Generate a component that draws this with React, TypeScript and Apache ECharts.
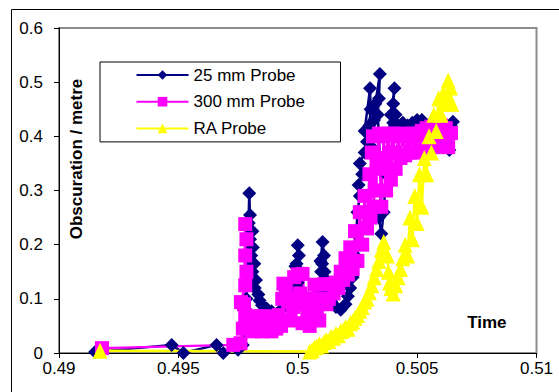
import React, { useEffect, useRef } from "react";
import * as echarts from "echarts";

const seriesNames = ["25 mm Probe", "300 mm Probe", "RA Probe"];

const xMin = 0.49;
const xMax = 0.51;
const xStep = 0.005;
const yMin = 0;
const yMax = 0.6;
const yStep = 0.1;

const probe25: [number, number][] = [
  [0.49151, 0.002], [0.49472, 0.015], [0.49521, 0.0], [0.4966, 0.015], [0.49688, 0.0],
  [0.4975, 0.006], [0.4977, 0.015], [0.4978, 0.04], [0.49785, 0.1], [0.49797, 0.295],
  [0.498, 0.255], [0.49795, 0.24], [0.4981, 0.225], [0.498, 0.21], [0.49812, 0.195],
  [0.49805, 0.18], [0.49818, 0.165], [0.4981, 0.15], [0.49825, 0.135], [0.4982, 0.12],
  [0.49835, 0.108], [0.4984, 0.097], [0.4985, 0.088], [0.4987, 0.082], [0.4989, 0.077],
  [0.4991, 0.072], [0.4993, 0.08], [0.4995, 0.09], [0.4997, 0.105], [0.4998, 0.13],
  [0.49995, 0.165], [0.5, 0.199], [0.50005, 0.18], [0.4999, 0.16], [0.50008, 0.145],
  [0.5, 0.13], [0.5001, 0.115], [0.50015, 0.1], [0.5002, 0.11], [0.5003, 0.09],
  [0.5005, 0.085], [0.5007, 0.1], [0.5009, 0.12], [0.50098, 0.15], [0.50095, 0.17],
  [0.50104, 0.205], [0.5011, 0.18], [0.50102, 0.165], [0.50112, 0.15], [0.5012, 0.135],
  [0.5013, 0.11], [0.5014, 0.095], [0.5016, 0.085], [0.5018, 0.08], [0.502, 0.09],
  [0.5021, 0.105], [0.5022, 0.12], [0.5023, 0.14], [0.5024, 0.18], [0.50245, 0.22],
  [0.5025, 0.26], [0.5026, 0.29], [0.50255, 0.31], [0.5027, 0.33], [0.5026, 0.35],
  [0.5028, 0.37], [0.5029, 0.39], [0.5028, 0.41], [0.50303, 0.489], [0.50305, 0.45],
  [0.503, 0.42], [0.5031, 0.38], [0.5032, 0.43], [0.50325, 0.46], [0.50344, 0.515],
  [0.5034, 0.47], [0.50335, 0.44], [0.5034, 0.4], [0.5035, 0.3], [0.5034, 0.25],
  [0.5035, 0.22], [0.5036, 0.26], [0.5037, 0.33], [0.5038, 0.4], [0.5039, 0.44],
  [0.50405, 0.489], [0.504, 0.46], [0.5041, 0.44], [0.504, 0.425], [0.5042, 0.42],
  [0.5044, 0.425], [0.5046, 0.42], [0.5048, 0.425], [0.505, 0.43], [0.5052, 0.43],
  [0.5054, 0.42], [0.5056, 0.425], [0.5058, 0.42], [0.506, 0.42], [0.5062, 0.415],
  [0.5064, 0.42], [0.5065, 0.427], [0.50635, 0.375],
];

const probe300: [number, number][] = [
  [0.4918, 0.009], [0.4973, 0.015], [0.4976, 0.018], [0.4977, 0.045], [0.49775, 0.09],
  [0.4978, 0.238], [0.49785, 0.21], [0.4978, 0.18], [0.49785, 0.15], [0.4978, 0.125],
  [0.49762, 0.094], [0.4978, 0.07], [0.4979, 0.045], [0.498, 0.065], [0.4981, 0.04],
  [0.4982, 0.068], [0.4983, 0.045], [0.4984, 0.065], [0.4985, 0.04], [0.4986, 0.068],
  [0.4987, 0.045], [0.4988, 0.062], [0.4989, 0.04], [0.499, 0.066], [0.4991, 0.045],
  [0.4992, 0.07], [0.4993, 0.05], [0.49935, 0.1], [0.4994, 0.128], [0.4995, 0.118],
  [0.4996, 0.095], [0.4997, 0.06], [0.49975, 0.1], [0.4998, 0.085], [0.49985, 0.14],
  [0.5, 0.145], [0.5001, 0.11], [0.5002, 0.146], [0.5003, 0.09], [0.5002, 0.055],
  [0.5004, 0.07], [0.5005, 0.05],
  [0.5006, 0.1], [0.5007, 0.126], [0.5008, 0.085], [0.5009, 0.06], [0.501, 0.1],
  [0.5011, 0.127], [0.5012, 0.09], [0.5013, 0.1], [0.5014, 0.127], [0.5015, 0.11],
  [0.5016, 0.13], [0.5017, 0.12], [0.5018, 0.15], [0.5019, 0.135], [0.502, 0.175],
  [0.5021, 0.145], [0.5022, 0.195], [0.5023, 0.155], [0.5024, 0.225], [0.5025, 0.17],
  [0.5026, 0.26], [0.5027, 0.2], [0.5028, 0.29], [0.5029, 0.23], [0.503, 0.33],
  [0.50305, 0.25], [0.5031, 0.37], [0.5032, 0.27], [0.50315, 0.4], [0.5033, 0.3],
  [0.5033, 0.35], [0.5034, 0.405], [0.5035, 0.27], [0.50355, 0.34], [0.5036, 0.4],
  [0.5037, 0.3], [0.5037, 0.36], [0.5038, 0.405], [0.5039, 0.32], [0.5039, 0.37],
  [0.504, 0.405], [0.5041, 0.34], [0.5042, 0.4], [0.5043, 0.36],
  [0.5044, 0.405], [0.5045, 0.365], [0.5046, 0.4], [0.5047, 0.37], [0.5048, 0.405],
  [0.5049, 0.37], [0.505, 0.405], [0.5051, 0.375], [0.5052, 0.41], [0.5053, 0.375],
  [0.5054, 0.415], [0.5055, 0.378], [0.5056, 0.418], [0.5057, 0.38], [0.5058, 0.42],
  [0.5059, 0.382], [0.506, 0.42], [0.5061, 0.385], [0.5062, 0.415], [0.5063, 0.38],
  [0.50642, 0.406],
];

const probeRA: [number, number][] = [
  [0.49172, 0.004], [0.5005, 0.003], [0.5006, 0.005], [0.5007, 0.01], [0.5008, 0.012],
  [0.5009, 0.016], [0.501, 0.014], [0.5011, 0.02], [0.5012, 0.024], [0.5013, 0.022],
  [0.5014, 0.03], [0.5015, 0.028], [0.5016, 0.035], [0.5017, 0.033], [0.5018, 0.04],
  [0.5019, 0.042], [0.502, 0.048], [0.5021, 0.045], [0.5022, 0.055], [0.5023, 0.058],
  [0.5024, 0.065], [0.5025, 0.07], [0.5026, 0.078], [0.5027, 0.085], [0.5028, 0.095],
  [0.5029, 0.1], [0.503, 0.112], [0.5031, 0.125], [0.5032, 0.14], [0.5033, 0.155],
  [0.5034, 0.17], [0.5035, 0.19], [0.5036, 0.205], [0.50375, 0.18], [0.5038, 0.15],
  [0.50385, 0.13], [0.5039, 0.12], [0.504, 0.11], [0.5041, 0.125], [0.5042, 0.14],
  [0.5043, 0.155], [0.5044, 0.175], [0.5045, 0.2], [0.5046, 0.18], [0.5047, 0.25],
  [0.5048, 0.21], [0.5049, 0.29], [0.505, 0.24], [0.5051, 0.33], [0.5052, 0.27],
  [0.5053, 0.36], [0.5054, 0.33], [0.5055, 0.4], [0.5056, 0.37], [0.5057, 0.44],
  [0.5058, 0.41], [0.5059, 0.47], [0.506, 0.44], [0.5061, 0.48], [0.5062, 0.46],
  [0.5063, 0.503], [0.50635, 0.47], [0.5064, 0.49], [0.50645, 0.46],
];

const FONT = '"Liberation Sans", Arial, Helvetica, sans-serif';

export default function App() {
  const ref = useRef<HTMLDivElement>(null);

  useEffect(() => {
    if (!ref.current) return;
    const chart = echarts.init(ref.current, null, { renderer: "svg" });
    const axisCommon = {
      axisLine: { show: true, onZero: false, lineStyle: { color: "#000", width: 1 } },
      axisTick: { show: true, inside: false, length: 5, lineStyle: { color: "#000", width: 1 } },
      splitLine: { show: false },
    };
    chart.setOption({
      animation: false,
      backgroundColor: "#fff",
      grid: {
        left: 59,
        top: 28,
        width: 477.5,
        height: 325,
        show: true,
        borderColor: "#8c8c8c",
        borderWidth: 2,
        backgroundColor: "#fff",
      },
      xAxis: {
        type: "value",
        min: xMin,
        max: xMax,
        interval: xStep,
        ...axisCommon,
        axisLabel: { fontSize: 17, fontFamily: FONT, color: "#000", margin: 7 },
      },
      yAxis: {
        type: "value",
        min: yMin,
        max: yMax,
        interval: yStep,
        ...axisCommon,
        axisLabel: { fontSize: 17, fontFamily: FONT, color: "#000", margin: 16 },
      },
      legend: {
        orient: "vertical",
        left: 100,
        top: 62,
        padding: [4.5, 35.5, 5, 35.5],
        itemWidth: 52,
        itemHeight: 12,
        itemGap: 9.7,
        borderColor: "#000",
        borderWidth: 1,
        backgroundColor: "#fff",
        selectedMode: false,
        textStyle: { fontSize: 17, fontFamily: FONT, color: "#000" },
        data: seriesNames,
      },
      graphic: [
        {
          type: "rect",
          silent: true,
          shape: { x: 11.5, y: 9.5, width: 560, height: 400 },
          style: { fill: "none", stroke: "#000", lineWidth: 1 },
          z: 100,
        },
        {
          type: "text",
          silent: true,
          x: 76.6,
          y: 159,
          rotation: Math.PI / 2,
          style: {
            text: "Obscuration / metre",
            font: `bold 17px ${FONT}`,
            fill: "#000",
            align: "center",
            verticalAlign: "middle",
            textAlign: "center",
            textVerticalAlign: "middle",
          },
          z: 100,
        },
        {
          type: "text",
          silent: true,
          x: 506.5,
          y: 322,
          style: {
            text: "Time",
            font: `bold 17px ${FONT}`,
            fill: "#000",
            align: "right",
            verticalAlign: "middle",
            textAlign: "right",
            textVerticalAlign: "middle",
          },
          z: 100,
        },
      ],
      series: [
        {
          name: seriesNames[0],
          type: "line",
          data: probe25,
          symbol: "diamond",
          symbolSize: 14,
          showSymbol: true,
          showAllSymbol: true,
          lineStyle: { color: "#000080", width: 2.5 },
          itemStyle: { color: "#000080" },
          emphasis: { disabled: true },
        },
        {
          name: seriesNames[1],
          type: "line",
          data: probe300,
          symbol: "rect",
          symbolSize: 14,
          showSymbol: true,
          showAllSymbol: true,
          lineStyle: { color: "#ff00ff", width: 2.5 },
          itemStyle: { color: "#ff00ff" },
          emphasis: { disabled: true },
        },
        {
          name: seriesNames[2],
          type: "line",
          data: probeRA,
          symbol: "triangle",
          symbolSize: [15, 16],
          showSymbol: true,
          showAllSymbol: true,
          lineStyle: { color: "#ffff00", width: 2.5 },
          itemStyle: { color: "#ffff00" },
          emphasis: { disabled: true },
        },
      ],
    });
    return () => chart.dispose();
  }, []);

  return (
    <div
      ref={ref}
      style={{ position: "absolute", left: 0, top: 0, width: 559, height: 392 }}
    />
  );
}
